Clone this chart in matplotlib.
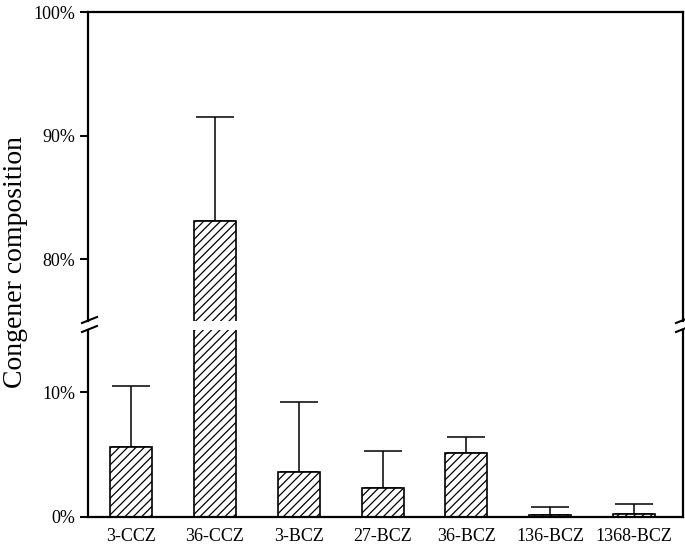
import matplotlib
matplotlib.use('Agg')
import matplotlib.pyplot as plt
import numpy as np

plt.rcParams['font.family'] = ['Liberation Serif', 'DejaVu Serif']
plt.rcParams['hatch.linewidth'] = 0.9

# congener composition (%), mean and upper error bar end
congeners = ['3-CCZ', '36-CCZ', '3-BCZ', '27-BCZ', '36-BCZ', '136-BCZ', '1368-BCZ']
means = [5.6, 83.1, 3.6, 2.3, 5.1, 0.15, 0.25]
upper = [10.5, 91.5, 9.2, 5.3, 6.4, 0.8, 1.0]

x = np.arange(len(congeners))
err = [np.zeros(len(means)), np.array(upper) - np.array(means)]

fig = plt.figure(figsize=(6.85, 5.49), dpi=100)
ax_top = fig.add_axes([0.1285, 0.4153, 0.8685, 0.5628])
ax_bot = fig.add_axes([0.1285, 0.0583, 0.8685, 0.3415])

for ax in (ax_top, ax_bot):
    ax.bar(x, means, width=0.5, color='white', edgecolor='black',
           linewidth=1.2, hatch='////', zorder=2)
    ax.errorbar(x, means, yerr=err, fmt='none', ecolor='black',
                elinewidth=1.1, capsize=14, capthick=1.1, zorder=1)
    ax.set_xlim(-0.51, 6.58)
    for s in ax.spines.values():
        s.set_linewidth(1.6)
    ax.tick_params(axis='y', direction='out', length=6, width=1.5,
                   labelsize=13, pad=3)
    ax.tick_params(axis='x', length=0, labelsize=13, pad=8)

ax_top.set_ylim(75, 100)
ax_top.set_yticks([80, 90, 100])
ax_top.set_yticklabels(['80%', '90%', '100%'])
ax_top.spines['bottom'].set_visible(False)
ax_top.set_xticks([])

ax_bot.set_ylim(0, 15)
ax_bot.set_yticks([0, 10])
ax_bot.set_yticklabels(['0%', '10%'])
ax_bot.spines['top'].set_visible(False)
ax_bot.set_xticks(x)
ax_bot.set_xticklabels(congeners)

# break marks on both spines
W, H = 685, 549
for px in (89, 683):
    for py in (320, 329):
        fig.add_artist(plt.Line2D([(px - 7) / W, (px + 8) / W],
                                  [1 - (py + 3) / H, 1 - (py - 3) / H],
                                  color='black', linewidth=1.5))

fig.text(0.022, 1 - 262 / H, 'Congener composition', rotation=90,
         ha='center', va='center', fontsize=20)

fig.savefig('out.png', dpi=100)
